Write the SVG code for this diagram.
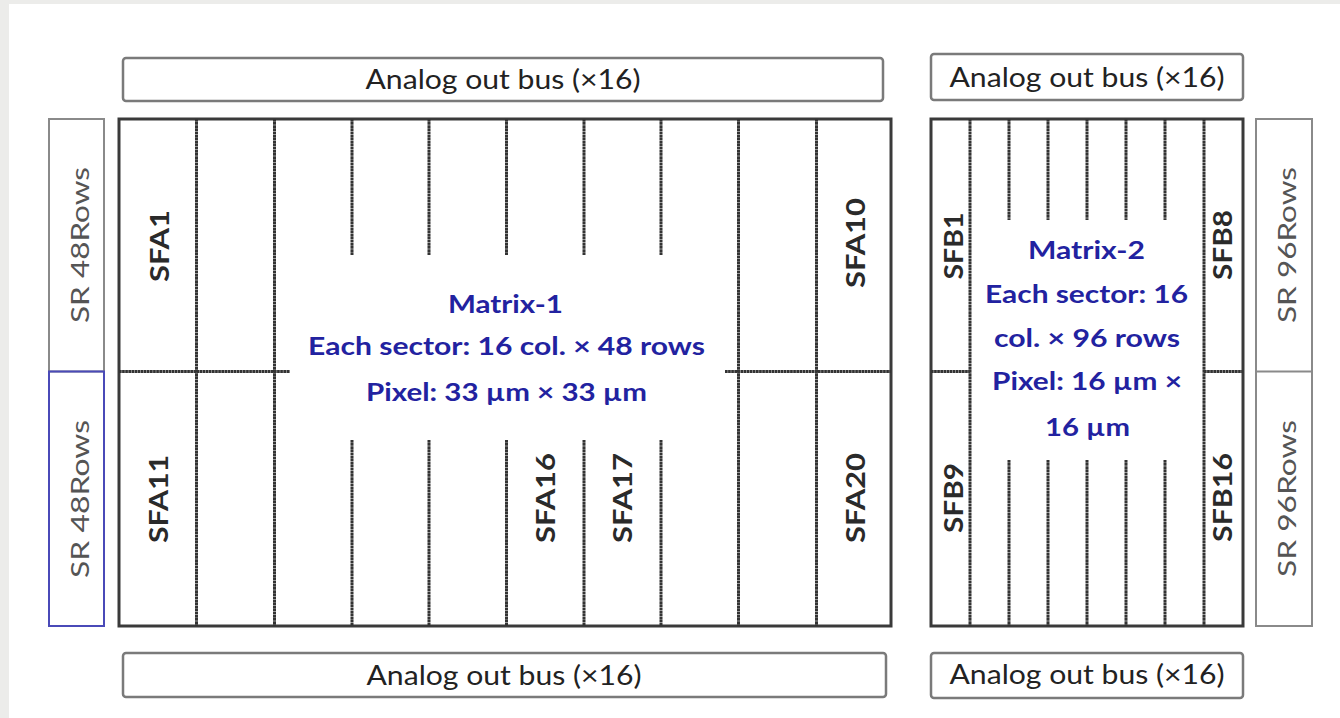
<svg xmlns="http://www.w3.org/2000/svg" width="1340" height="718" viewBox="0 0 1340 718">
<style>
.bus{fill:#fff;stroke:#7a7a7a;stroke-width:2.5}
.busT{font-family:Lato,"Noto Sans","Liberation Sans",sans-serif;font-size:26px;fill:#222;text-anchor:middle}
.mat{fill:#fff;stroke:#3a3a3a;stroke-width:3}
.ln{stroke:#333;stroke-width:3;fill:none;stroke-dasharray:2.7 0.4}
.sr{fill:#fff;stroke:#8a8a8a;stroke-width:2}
.srb{fill:none;stroke:#4a4ab8;stroke-width:2}
.srT{font-family:Lato,"Noto Sans","Liberation Sans",sans-serif;font-size:25px;fill:#555;text-anchor:middle}
.sf{font-family:Lato,"Noto Sans","Liberation Sans",sans-serif;font-size:26px;font-weight:bold;fill:#2a2a2a;text-anchor:middle}
.mt{font-family:Lato,"Noto Sans","Liberation Sans",sans-serif;font-size:25px;font-weight:bold;fill:#2222a0;text-anchor:middle}
</style>
<rect x="0" y="0" width="1340" height="718" fill="#ececea"/>
<rect x="9" y="4" width="1331" height="714" fill="#fff"/>

<g id="bus-top-1"><rect class="bus" x="123" y="58" width="760" height="43" rx="3"/><text class="busT" x="503" y="89" textLength="275" lengthAdjust="spacingAndGlyphs">Analog out bus (×16)</text></g>
<g id="bus-top-2"><rect class="bus" x="931" y="54" width="312" height="46" rx="3"/><text class="busT" x="1087" y="87" textLength="275" lengthAdjust="spacingAndGlyphs">Analog out bus (×16)</text></g>
<g id="bus-bottom-1"><rect class="bus" x="123" y="653" width="763" height="44" rx="3"/><text class="busT" x="504" y="685" textLength="275" lengthAdjust="spacingAndGlyphs">Analog out bus (×16)</text></g>
<g id="bus-bottom-2"><rect class="bus" x="931" y="653" width="312" height="45" rx="3"/><text class="busT" x="1087" y="684" textLength="275" lengthAdjust="spacingAndGlyphs">Analog out bus (×16)</text></g>

<g id="sr-left">
<rect class="sr" x="49" y="119" width="55" height="252.5"/>
<rect class="srb" x="49" y="371.5" width="55" height="254.5"/>
<text class="srT" transform="translate(89,245) rotate(-90)" textLength="156" lengthAdjust="spacingAndGlyphs">SR 48Rows</text>
<text class="srT" transform="translate(89,499) rotate(-90)" textLength="158" lengthAdjust="spacingAndGlyphs">SR 48Rows</text>
</g>
<g id="sr-right">
<rect class="sr" x="1256" y="119" width="56" height="507"/>
<line x1="1256" y1="371.5" x2="1312" y2="371.5" stroke="#8a8a8a" stroke-width="2"/>
<text class="srT" transform="translate(1295.5,245) rotate(-90)" textLength="156" lengthAdjust="spacingAndGlyphs">SR 96Rows</text>
<text class="srT" transform="translate(1295.5,498.5) rotate(-90)" textLength="157" lengthAdjust="spacingAndGlyphs">SR 96Rows</text>
</g>

<g id="matrix-1">
<rect class="mat" x="119" y="119" width="772" height="507"/>
<g class="ln">
<line x1="196.5" y1="119" x2="196.5" y2="626"/>
<line x1="274.5" y1="119" x2="274.5" y2="626"/>
<line x1="738.5" y1="119" x2="738.5" y2="626"/>
<line x1="816.5" y1="119" x2="816.5" y2="626"/>
<line x1="352" y1="119" x2="352" y2="255"/><line x1="352" y1="440" x2="352" y2="626"/>
<line x1="429" y1="119" x2="429" y2="255"/><line x1="429" y1="440" x2="429" y2="626"/>
<line x1="506.5" y1="119" x2="506.5" y2="255"/><line x1="506.5" y1="440" x2="506.5" y2="626"/>
<line x1="584" y1="119" x2="584" y2="255"/><line x1="584" y1="440" x2="584" y2="626"/>
<line x1="661" y1="119" x2="661" y2="255"/><line x1="661" y1="440" x2="661" y2="626"/>
<line x1="119" y1="371.5" x2="290" y2="371.5"/>
<line x1="725" y1="371.5" x2="891" y2="371.5"/>
</g>
<text class="sf" transform="translate(168.5,246) rotate(-90)" textLength="72" lengthAdjust="spacingAndGlyphs">SFA1</text>
<text class="sf" transform="translate(864.5,243) rotate(-90)" textLength="90" lengthAdjust="spacingAndGlyphs">SFA10</text>
<text class="sf" transform="translate(167.5,499) rotate(-90)" textLength="88" lengthAdjust="spacingAndGlyphs">SFA11</text>
<text class="sf" transform="translate(554.5,498) rotate(-90)" textLength="90" lengthAdjust="spacingAndGlyphs">SFA16</text>
<text class="sf" transform="translate(631.5,498) rotate(-90)" textLength="90" lengthAdjust="spacingAndGlyphs">SFA17</text>
<text class="sf" transform="translate(864.5,498) rotate(-90)" textLength="90" lengthAdjust="spacingAndGlyphs">SFA20</text>
<text class="mt" x="505.5" y="313" textLength="115" lengthAdjust="spacingAndGlyphs">Matrix-1</text>
<text class="mt" x="506.5" y="355" textLength="397" lengthAdjust="spacingAndGlyphs">Each sector: 16 col. × 48 rows</text>
<text class="mt" x="506.5" y="401" textLength="281" lengthAdjust="spacingAndGlyphs">Pixel: 33 µm × 33 µm</text>
</g>

<g id="matrix-2">
<rect class="mat" x="931" y="119" width="312" height="507"/>
<g class="ln">
<line x1="970" y1="119" x2="970" y2="626"/>
<line x1="1204" y1="119" x2="1204" y2="626"/>
<line x1="1009" y1="119" x2="1009" y2="220"/><line x1="1009" y1="460" x2="1009" y2="626"/>
<line x1="1048" y1="119" x2="1048" y2="220"/><line x1="1048" y1="460" x2="1048" y2="626"/>
<line x1="1087" y1="119" x2="1087" y2="220"/><line x1="1087" y1="460" x2="1087" y2="626"/>
<line x1="1126" y1="119" x2="1126" y2="220"/><line x1="1126" y1="460" x2="1126" y2="626"/>
<line x1="1165" y1="119" x2="1165" y2="220"/><line x1="1165" y1="460" x2="1165" y2="626"/>
<line x1="931" y1="371.5" x2="970" y2="371.5"/>
<line x1="1204" y1="371.5" x2="1243" y2="371.5"/>
</g>
<text class="sf" transform="translate(962.5,246) rotate(-90)" textLength="67" lengthAdjust="spacingAndGlyphs">SFB1</text>
<text class="sf" transform="translate(1231.5,245) rotate(-90)" textLength="70" lengthAdjust="spacingAndGlyphs">SFB8</text>
<text class="sf" transform="translate(962.5,498) rotate(-90)" textLength="70" lengthAdjust="spacingAndGlyphs">SFB9</text>
<text class="sf" transform="translate(1231.5,497.5) rotate(-90)" textLength="89" lengthAdjust="spacingAndGlyphs">SFB16</text>
<text class="mt" x="1086.5" y="259" textLength="117" lengthAdjust="spacingAndGlyphs">Matrix-2</text>
<text class="mt" x="1086.5" y="303" textLength="203" lengthAdjust="spacingAndGlyphs">Each sector: 16</text>
<text class="mt" x="1087" y="347" textLength="186" lengthAdjust="spacingAndGlyphs">col. × 96 rows</text>
<text class="mt" x="1087" y="390" textLength="190" lengthAdjust="spacingAndGlyphs">Pixel: 16 µm ×</text>
<text class="mt" x="1087.5" y="436" textLength="85" lengthAdjust="spacingAndGlyphs">16 µm</text>
</g>
</svg>
